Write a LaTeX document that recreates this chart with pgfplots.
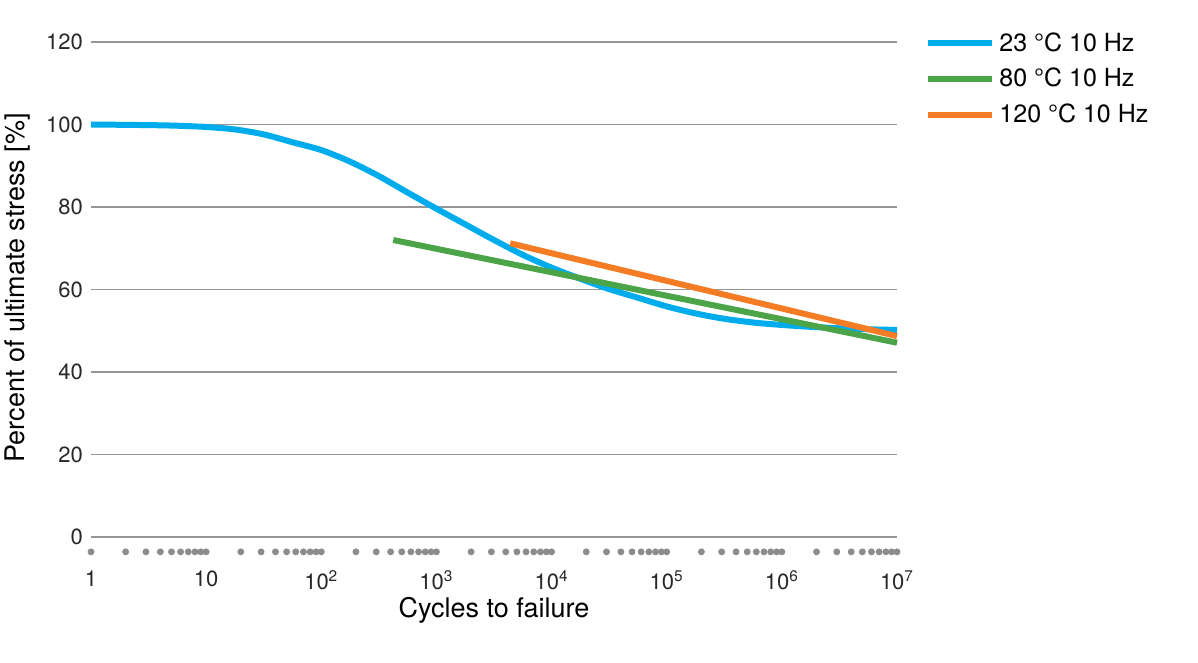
\documentclass[border=0pt]{standalone}
\usepackage{pgfplots}
\pgfplotsset{compat=1.18}
\usepackage{fontspec}
\setmainfont{TeX Gyre Heros}
\definecolor{cblue}{RGB}{0,172,236}
\definecolor{cgreen}{RGB}{76,164,72}
\definecolor{corange}{RGB}{243,124,36}
\definecolor{gridgray}{RGB}{150,150,150}
\definecolor{dotgray}{RGB}{140,140,140}
\definecolor{txt}{RGB}{40,40,40}
\begin{document}
\begin{tikzpicture}
\useasboundingbox (-45.5pt,-50.625pt) rectangle (553.5pt,280.875pt);
\begin{axis}[
  scale only axis,
  width=403pt, height=259.875pt,
  xmode=log, xmin=1, xmax=1e7,
  ymin=-6, ymax=120,
  axis line style={draw=none},
  tick style={draw=none},
  xtick={1,10,100,1000,10000,100000,1000000,10000000},
  xticklabels={1,10,10\textsuperscript{2},10\textsuperscript{3},10\textsuperscript{4},10\textsuperscript{5},10\textsuperscript{6},10\textsuperscript{7}},
  minor xtick={},
  ytick={0,20,40,60,80,100,120},
  ymajorgrids,
  major grid style={gridgray, line width=0.6pt},
  /pgf/number format/assume math mode=true,
  ticklabel style={font=\fontsize{11}{13}\selectfont, text=txt},
  xticklabel style={yshift=-1pt},
  yticklabel style={xshift=-0.5pt},
  ylabel={Percent of ultimate stress [\%]},
  xlabel={Cycles to failure},
  label style={font=\fontsize{13.5}{15}\selectfont, text=black},
  ylabel style={at={(axis description cs:-0.0918,0.527)}, anchor=center, rotate=0},
  xlabel style={at={(axis description cs:0.5,-0.0928)}, anchor=center},
  legend style={at={(axis description cs:1.0348,1.027)}, anchor=north west, draw=none, fill=none,
     font=\fontsize{12.5}{14}\selectfont, row sep=3pt, inner sep=0pt},
  legend cell align=left,
  legend image code/.code={\path (0pt,0pt) -- (32pt,0pt); \draw[#1] (0pt,0pt) -- (31pt,0pt);},
  clip=false,
]
\addplot[cblue, line width=3pt, smooth] coordinates {
(1,100.0) (3.162,99.85) (5.623,99.7) (10,99.4) (17.78,98.8) (31.62,97.6) (56.23,95.7)
(100,93.8) (177.8,91.0) (316.2,87.5) (562.3,83.5) (1000,79.6) (1778,75.8) (3162,72.0)
(5623,68.4) (10000,65.3) (17780,62.6) (31620,60.1) (56230,58.0) (100000,55.9)
(177800,54.2) (316200,52.9) (562300,52.0) (1000000,51.4) (1778000,50.95)
(3162000,50.6) (5623000,50.35) (10000000,50.2)
};
\addlegendentry{23 °C 10 Hz}
\addplot[cgreen, line width=3pt] coordinates {(422,72.0) (10000000,47.1)};
\addlegendentry{80 °C 10 Hz}
\addplot[corange, line width=3pt] coordinates {(4365,71.2) (10000000,48.7)};
\addlegendentry{120 °C 10 Hz}
\addplot[only marks, mark=*, mark size=1.5pt, dotgray, forget plot] coordinates {
(1,-3.6) (2,-3.6) (3,-3.6) (4,-3.6) (5,-3.6) (6,-3.6) (7,-3.6) (8,-3.6) (9,-3.6)
(10,-3.6) (20,-3.6) (30,-3.6) (40,-3.6) (50,-3.6) (60,-3.6) (70,-3.6) (80,-3.6) (90,-3.6)
(100,-3.6) (200,-3.6) (300,-3.6) (400,-3.6) (500,-3.6) (600,-3.6) (700,-3.6) (800,-3.6) (900,-3.6)
(1000,-3.6) (2000,-3.6) (3000,-3.6) (4000,-3.6) (5000,-3.6) (6000,-3.6) (7000,-3.6) (8000,-3.6) (9000,-3.6)
(10000,-3.6) (20000,-3.6) (30000,-3.6) (40000,-3.6) (50000,-3.6) (60000,-3.6) (70000,-3.6) (80000,-3.6) (90000,-3.6)
(100000,-3.6) (200000,-3.6) (300000,-3.6) (400000,-3.6) (500000,-3.6) (600000,-3.6) (700000,-3.6) (800000,-3.6) (900000,-3.6)
(1000000,-3.6) (2000000,-3.6) (3000000,-3.6) (4000000,-3.6) (5000000,-3.6) (6000000,-3.6) (7000000,-3.6) (8000000,-3.6) (9000000,-3.6)
(10000000,-3.6)
};
\end{axis}
\end{tikzpicture}
\end{document}
